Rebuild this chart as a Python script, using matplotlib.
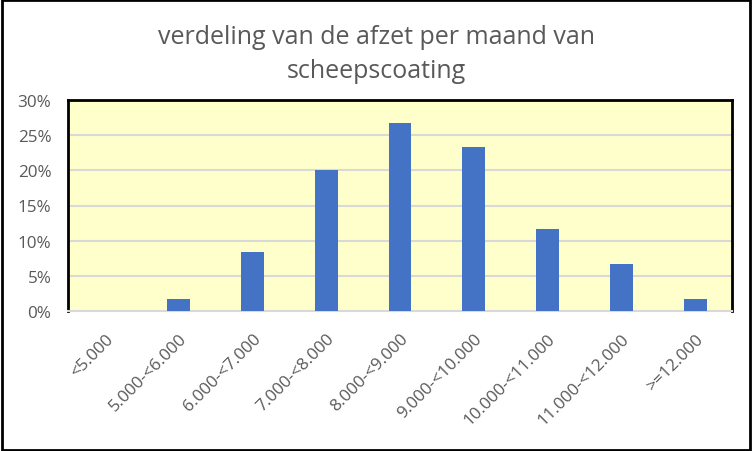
import numpy as np
import matplotlib
matplotlib.use("Agg")
import matplotlib.pyplot as plt
from matplotlib.ticker import PercentFormatter
from matplotlib.patches import Rectangle

# data
categories = ["<5.000", "5.000-<6.000", "6.000-<7.000", "7.000-<8.000", "8.000-<9.000",
              "9.000-<10.000", "10.000-<11.000", "11.000-<12.000", ">=12.000"]
shares = [0.0, 1.67, 8.33, 20.0, 26.67, 23.33, 11.67, 6.67, 1.67]
yticks = [0, 5, 10, 15, 20, 25, 30]

plt.rcParams['font.family'] = ['Open Sans', 'DejaVu Sans']

fig = plt.figure(figsize=(7.52, 4.52), dpi=100)
fig.patch.set_facecolor("white")
ax = fig.add_axes([68 / 752, 1 - 312 / 452, (732 - 68) / 752, (312 - 101) / 452])
ax.set_facecolor("#FFFFCC")

x = np.arange(len(categories))
ax.bar(x, shares, width=0.31, color="#4472C4", zorder=3)

ax.set_xlim(-0.5, len(categories) - 0.5)
ax.set_ylim(0, 30)
ax.set_yticks(yticks)
ax.yaxis.set_major_formatter(PercentFormatter(decimals=0))
ax.grid(axis="y", color="#D9D9D9", linewidth=1.5, zorder=0)
ax.set_xticks(x)
ax.set_xticklabels(categories, rotation=45, ha="right", rotation_mode="anchor")
ax.tick_params(axis="both", length=0, colors="#595959", labelsize=12.3)
ax.tick_params(axis="x", pad=14)
ax.tick_params(axis="y", pad=12)

for side in ["left", "top", "right"]:
    ax.spines[side].set_color("black")
    ax.spines[side].set_linewidth(2)
ax.spines["bottom"].set_color("#D9D9D9")
ax.spines["bottom"].set_linewidth(1.5)

fig.text(0.5, 1 - 38 / 452, "verdeling van de afzet per maand van", ha="center", va="center",
         fontsize=18, color="#595959")
fig.text(0.5, 1 - 72 / 452, "scheepscoating", ha="center", va="center",
         fontsize=18, color="#595959")

# outer border
fig.patches.append(Rectangle((0.002, 0.003), 0.995, 0.994, transform=fig.transFigure,
                             fill=False, edgecolor="black", linewidth=2))

fig.savefig("out.png", dpi=100)
